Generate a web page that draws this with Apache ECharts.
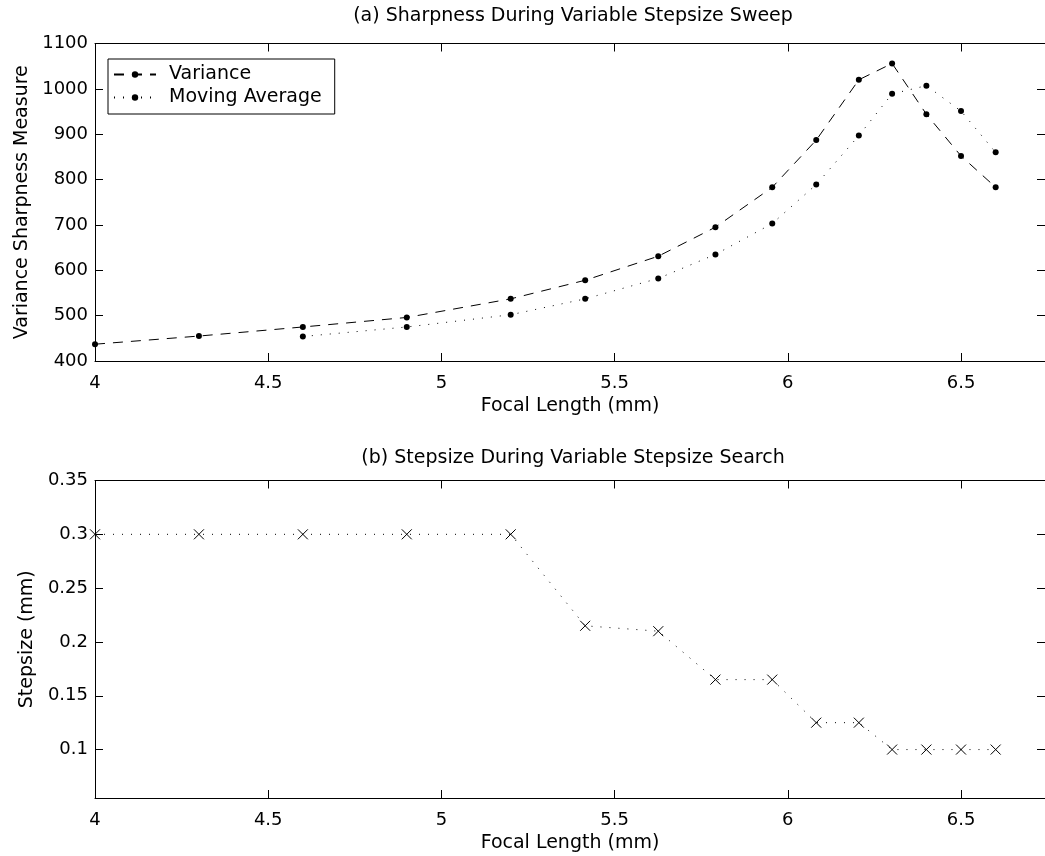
<!DOCTYPE html>
<html>
<head>
<meta charset="utf-8">
<script src="https://cdn.jsdelivr.net/npm/echarts@6/dist/echarts.min.js"></script>
<style>
html,body{margin:0;padding:0;background:#fff;}
#main{width:1045px;height:856px;}
</style>
</head>
<body>
<div id="main"></div>
<script>
// ---- data ----
var focalLength = [4.0, 4.3, 4.6, 4.9, 5.2, 5.415, 5.626, 5.791, 5.955, 6.082, 6.205, 6.301, 6.40, 6.50, 6.60];
var varianceValues = [437, 455, 475, 496, 537, 578, 631, 695, 783, 887, 1020, 1056, 944, 852, 783];
var movingAvgFocal = [4.6, 4.9, 5.2, 5.415, 5.626, 5.791, 5.955, 6.082, 6.205, 6.301, 6.40, 6.50, 6.60];
var movingAvgValues = [454, 475, 502, 537, 582, 635, 703, 789, 897, 989, 1007, 951, 860];
var stepsizeValues = [0.3, 0.3, 0.3, 0.3, 0.3, 0.215, 0.21, 0.165, 0.165, 0.125, 0.125, 0.1, 0.1, 0.1, 0.1];
var xTicks = [4, 4.5, 5, 5.5, 6, 6.5];
var yTicksTop = [400, 500, 600, 700, 800, 900, 1000, 1100];
var yTicksBottom = [0.1, 0.15, 0.2, 0.25, 0.3, 0.35];

function pairs(xs, ys){ return xs.map(function(x,i){ return [x, ys[i]]; }); }

var FONT = 'DejaVu Sans';
var FS = 18;      // tick labels
var FSN = 19;     // titles, axis names, legend
var BLACK = '#000';

var gridLeft = 95, gridWidth = 956, gridHeight = 317.5;
var topGridTop = 43.5, botGridTop = 480.5;
var xMin = 4, xMax = 4 + gridWidth / 348.6;

function xAxisPair(gridIndex){
  return [
    {
      type:'value', gridIndex:gridIndex, position:'bottom', min:xMin, max:xMax,
      name:'Focal Length (mm)', nameLocation:'middle', nameGap:36,
      nameTextStyle:{fontFamily:FONT, fontSize:FSN, color:BLACK},
      axisLine:{show:true, onZero:false, lineStyle:{color:BLACK, width:1}},
      axisTick:{show:true, inside:true, length:8, customValues:xTicks, lineStyle:{color:BLACK}},
      axisLabel:{show:true, customValues:xTicks, margin:13, fontFamily:FONT, fontSize:FS, color:BLACK,
        formatter:function(v){ return String(v); }},
      splitLine:{show:false}
    },
    {
      type:'value', gridIndex:gridIndex, position:'top', min:xMin, max:xMax,
      axisLine:{show:true, onZero:false, lineStyle:{color:BLACK, width:1}},
      axisTick:{show:true, inside:true, length:8, customValues:xTicks, lineStyle:{color:BLACK}},
      axisLabel:{show:false},
      splitLine:{show:false}
    }
  ];
}

function yAxisPair(gridIndex, min, max, ticks, name, gap){
  return [
    {
      type:'value', gridIndex:gridIndex, position:'left', min:min, max:max,
      name:name, nameLocation:'middle', nameGap:gap, nameRotate:90,
      nameTextStyle:{fontFamily:FONT, fontSize:FSN, color:BLACK},
      axisLine:{show:true, onZero:false, lineStyle:{color:BLACK, width:1}},
      axisTick:{show:true, inside:true, length:8, customValues:ticks, lineStyle:{color:BLACK}},
      axisLabel:{show:true, customValues:ticks, margin:7, fontFamily:FONT, fontSize:FS, color:BLACK,
        formatter:function(v){ return String(Math.round(v*1000)/1000); }},
      splitLine:{show:false}
    },
    {
      type:'value', gridIndex:gridIndex, position:'right', min:min, max:max,
      axisLine:{show:true, onZero:false, lineStyle:{color:BLACK, width:1}},
      axisTick:{show:true, inside:true, length:8, customValues:ticks, lineStyle:{color:BLACK}},
      axisLabel:{show:false},
      splitLine:{show:false}
    }
  ];
}

var xMarker = 'path://M0,0L10,10M10,0L0,10';

var option = {
  backgroundColor:'#fff',
  animation:false,
  textStyle:{fontFamily:FONT},
  title:[
    {text:'(a) Sharpness During Variable Stepsize Sweep', left:568, top:2, textAlign:'center',
      textStyle:{fontFamily:FONT, fontSize:FSN, fontWeight:'normal', color:BLACK}},
    {text:'(b) Stepsize During Variable Stepsize Search', left:568, top:444, textAlign:'center',
      textStyle:{fontFamily:FONT, fontSize:FSN, fontWeight:'normal', color:BLACK}}
  ],
  legend:{
    left:108, top:59, orient:'vertical',
    data:['Variance','Moving Average'],
    itemWidth:42, itemHeight:8, itemGap:4,
    padding:[6, 13, 7, 5],
    borderColor:BLACK, borderWidth:1, borderRadius:0,
    backgroundColor:'#fff',
    textStyle:{fontFamily:FONT, fontSize:FSN, color:BLACK, padding:[0,0,0,8]}
  },
  grid:[
    {left:gridLeft, top:topGridTop, width:gridWidth, height:gridHeight, containLabel:false},
    {left:gridLeft, top:botGridTop, width:gridWidth, height:gridHeight, containLabel:false}
  ],
  xAxis: xAxisPair(0).concat(xAxisPair(1)),
  yAxis: yAxisPair(0, 400, 1100, yTicksTop, 'Variance Sharpness Measure', 56)
    .concat(yAxisPair(1, 0.055, 0.35, yTicksBottom, 'Stepsize (mm)', 51)),
  series:[
    {
      name:'Variance', type:'line', xAxisIndex:0, yAxisIndex:0,
      data:pairs(focalLength, varianceValues),
      symbol:'circle', symbolSize:6,
      lineStyle:{color:BLACK, width:1, type:[10,8]},
      itemStyle:{color:BLACK},
      clip:false
    },
    {
      name:'Moving Average', type:'line', xAxisIndex:0, yAxisIndex:0,
      data:pairs(movingAvgFocal, movingAvgValues),
      symbol:'circle', symbolSize:6,
      lineStyle:{color:BLACK, width:1, type:[1,8]},
      itemStyle:{color:BLACK},
      clip:false
    },
    {
      name:'Stepsize', type:'line', xAxisIndex:2, yAxisIndex:2,
      data:pairs(focalLength, stepsizeValues),
      symbol:xMarker, symbolSize:10,
      lineStyle:{color:BLACK, width:1, type:[1,8]},
      itemStyle:{color:'rgba(0,0,0,0)', borderColor:BLACK, borderWidth:1},
      clip:false
    }
  ]
};

var chart = echarts.init(document.getElementById('main'), null, {renderer:'canvas'});
chart.setOption(option);
</script>
</body>
</html>
